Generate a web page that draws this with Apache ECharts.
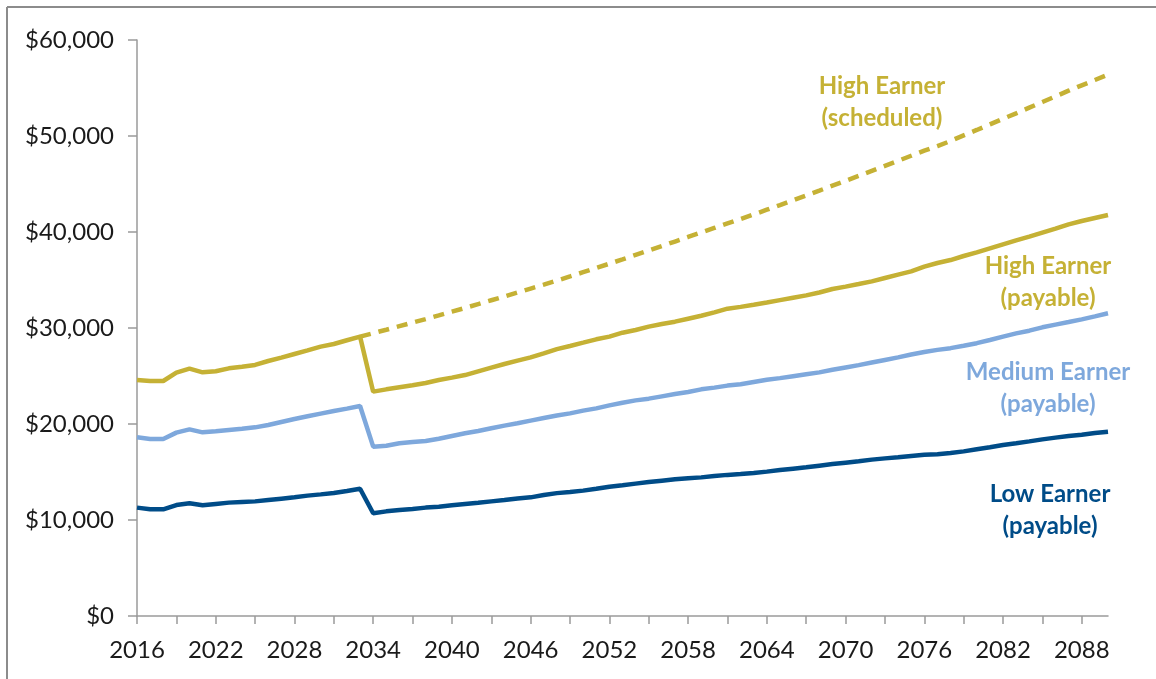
<!DOCTYPE html>
<html>
<head>
<meta charset="utf-8">
<script src="https://cdn.jsdelivr.net/npm/echarts@6/dist/echarts.min.js"></script>
<style>
html,body{margin:0;padding:0;background:#fff;}
#chart{width:1156px;height:679px;}
</style>
</head>
<body>
<div id="chart"></div>
<script>
const years = [];
for (let y = 2016; y <= 2090; y++) years.push(String(y));

const yTicks = [0, 10000, 20000, 30000, 40000, 50000, 60000];

const highPayable = [
24580,24480,24480,25350,25760,25380,25490,25800,25970,26150,
26560,26910,27290,27670,28060,28330,28720,29100,23370,23610,
23820,24030,24270,24580,24830,25100,25490,25870,26250,26600,
26940,27360,27800,28125,28470,28820,29100,29510,29790,30140,
30420,30660,30970,31280,31630,32010,32200,32420,32650,32900,
33150,33400,33700,34060,34310,34580,34860,35210,35560,35900,
36390,36770,37080,37500,37880,38300,38720,39130,39510,39930,
40350,40800,41150,41460,41770];

const highScheduled = [
null,null,null,null,null,null,null,null,null,null,
null,null,null,null,null,null,null,29100,29460,29820,
30190,30560,30930,31310,31700,32090,32490,32890,33290,33700,
34110,34520,34940,35370,35810,36250,36700,37150,37610,38070,
38540,39010,39480,39950,40420,40890,41350,41830,42320,42810,
43310,43810,44310,44820,45330,45850,46370,46890,47410,47940,
48470,48950,49480,50070,50630,51210,51800,52360,52950,53540,
54130,54720,55280,55830,56400];

const mediumPayable = [
18610,18440,18440,19100,19440,19130,19240,19380,19510,19650,
19900,20210,20520,20800,21080,21350,21600,21880,17640,17740,
17990,18120,18230,18470,18750,19030,19270,19550,19830,20070,
20350,20620,20880,21110,21390,21630,21940,22220,22460,22640,
22880,23120,23330,23610,23790,24000,24150,24380,24600,24780,
24980,25180,25380,25650,25890,26130,26400,26670,26940,27240,
27500,27720,27900,28150,28420,28750,29100,29440,29720,30070,
30350,30620,30900,31210,31530];

const lowPayable = [
11290,11110,11110,11560,11740,11530,11670,11810,11880,11940,
12080,12220,12360,12540,12670,12810,13020,13260,10700,10900,
11040,11150,11290,11390,11530,11670,11800,11940,12080,12250,
12360,12600,12800,12920,13060,13260,13470,13610,13790,13960,
14100,14240,14340,14440,14580,14700,14780,14900,15040,15210,
15350,15490,15660,15830,15970,16110,16290,16420,16530,16670,
16800,16860,16990,17150,17360,17570,17810,17990,18190,18400,
18580,18750,18890,19060,19200];

const GOLD = '#C5B135';
const LIGHT = '#7EA8DC';
const DARK = '#004C88';
const FONT = 'Lato, "Open Sans", sans-serif';

const chart = echarts.init(document.getElementById('chart'));

function lineSeries(name, data, color, dashed) {
  return {
    name: name,
    type: 'line',
    data: data,
    symbol: 'none',
    smooth: false,
    connectNulls: false,
    lineStyle: { color: color, width: 4.5, type: dashed ? [11, 8] : 'solid', cap: 'butt' },
    itemStyle: { color: color },
    z: dashed ? 2 : 3,
    animation: false
  };
}

function note(x, y, text, color) {
  return { type: 'text', x: x, y: y, style: { text: text, fill: color, font: 'bold 24px ' + FONT, align: 'center', lineHeight: 32 } };
}

chart.setOption({
  backgroundColor: '#ffffff',
  animation: false,
  grid: { left: 137, right: 48, top: 40, bottom: 63, containLabel: false },
  xAxis: {
    type: 'category',
    data: years,
    boundaryGap: false,
    axisLine: { lineStyle: { color: '#9a9a9a', width: 1.5 } },
    axisTick: { show: true, length: 8, interval: function (i) { return i % 3 === 0; }, lineStyle: { color: '#9a9a9a', width: 1.5 } },
    axisLabel: { interval: function (i) { return i % 6 === 0; }, color: '#1a1a1a', fontSize: 24, fontFamily: FONT, margin: 22 },
    splitLine: { show: false }
  },
  yAxis: {
    type: 'value',
    min: yTicks[0],
    max: yTicks[yTicks.length - 1],
    interval: 10000,
    axisLine: { show: true, lineStyle: { color: '#9a9a9a', width: 1.5 } },
    axisTick: { show: true, length: 9, lineStyle: { color: '#9a9a9a', width: 1.5 } },
    axisLabel: {
      color: '#1a1a1a', fontSize: 24, fontFamily: FONT, margin: 23,
      formatter: function (v) { return '$' + v.toLocaleString('en-US'); }
    },
    splitLine: { show: false }
  },
  series: [
    lineSeries('High Earner (scheduled)', highScheduled, GOLD, true),
    lineSeries('High Earner (payable)', highPayable, GOLD, false),
    lineSeries('Medium Earner (payable)', mediumPayable, LIGHT, false),
    lineSeries('Low Earner (payable)', lowPayable, DARK, false)
  ],
  graphic: [
    { type: 'line', shape: { x1: 7, y1: 7, x2: 1156, y2: 7 }, style: { stroke: '#8c8c8c', lineWidth: 2 }, silent: true },
    { type: 'line', shape: { x1: 7, y1: 7, x2: 7, y2: 679 }, style: { stroke: '#8c8c8c', lineWidth: 2 }, silent: true },
    note(882, 70, 'High Earner\n(scheduled)', GOLD),
    note(1048, 250, 'High Earner\n(payable)', GOLD),
    note(1048, 356, 'Medium Earner\n(payable)', LIGHT),
    note(1050, 478, 'Low Earner\n(payable)', DARK)
  ]
});
</script>
</body>
</html>
